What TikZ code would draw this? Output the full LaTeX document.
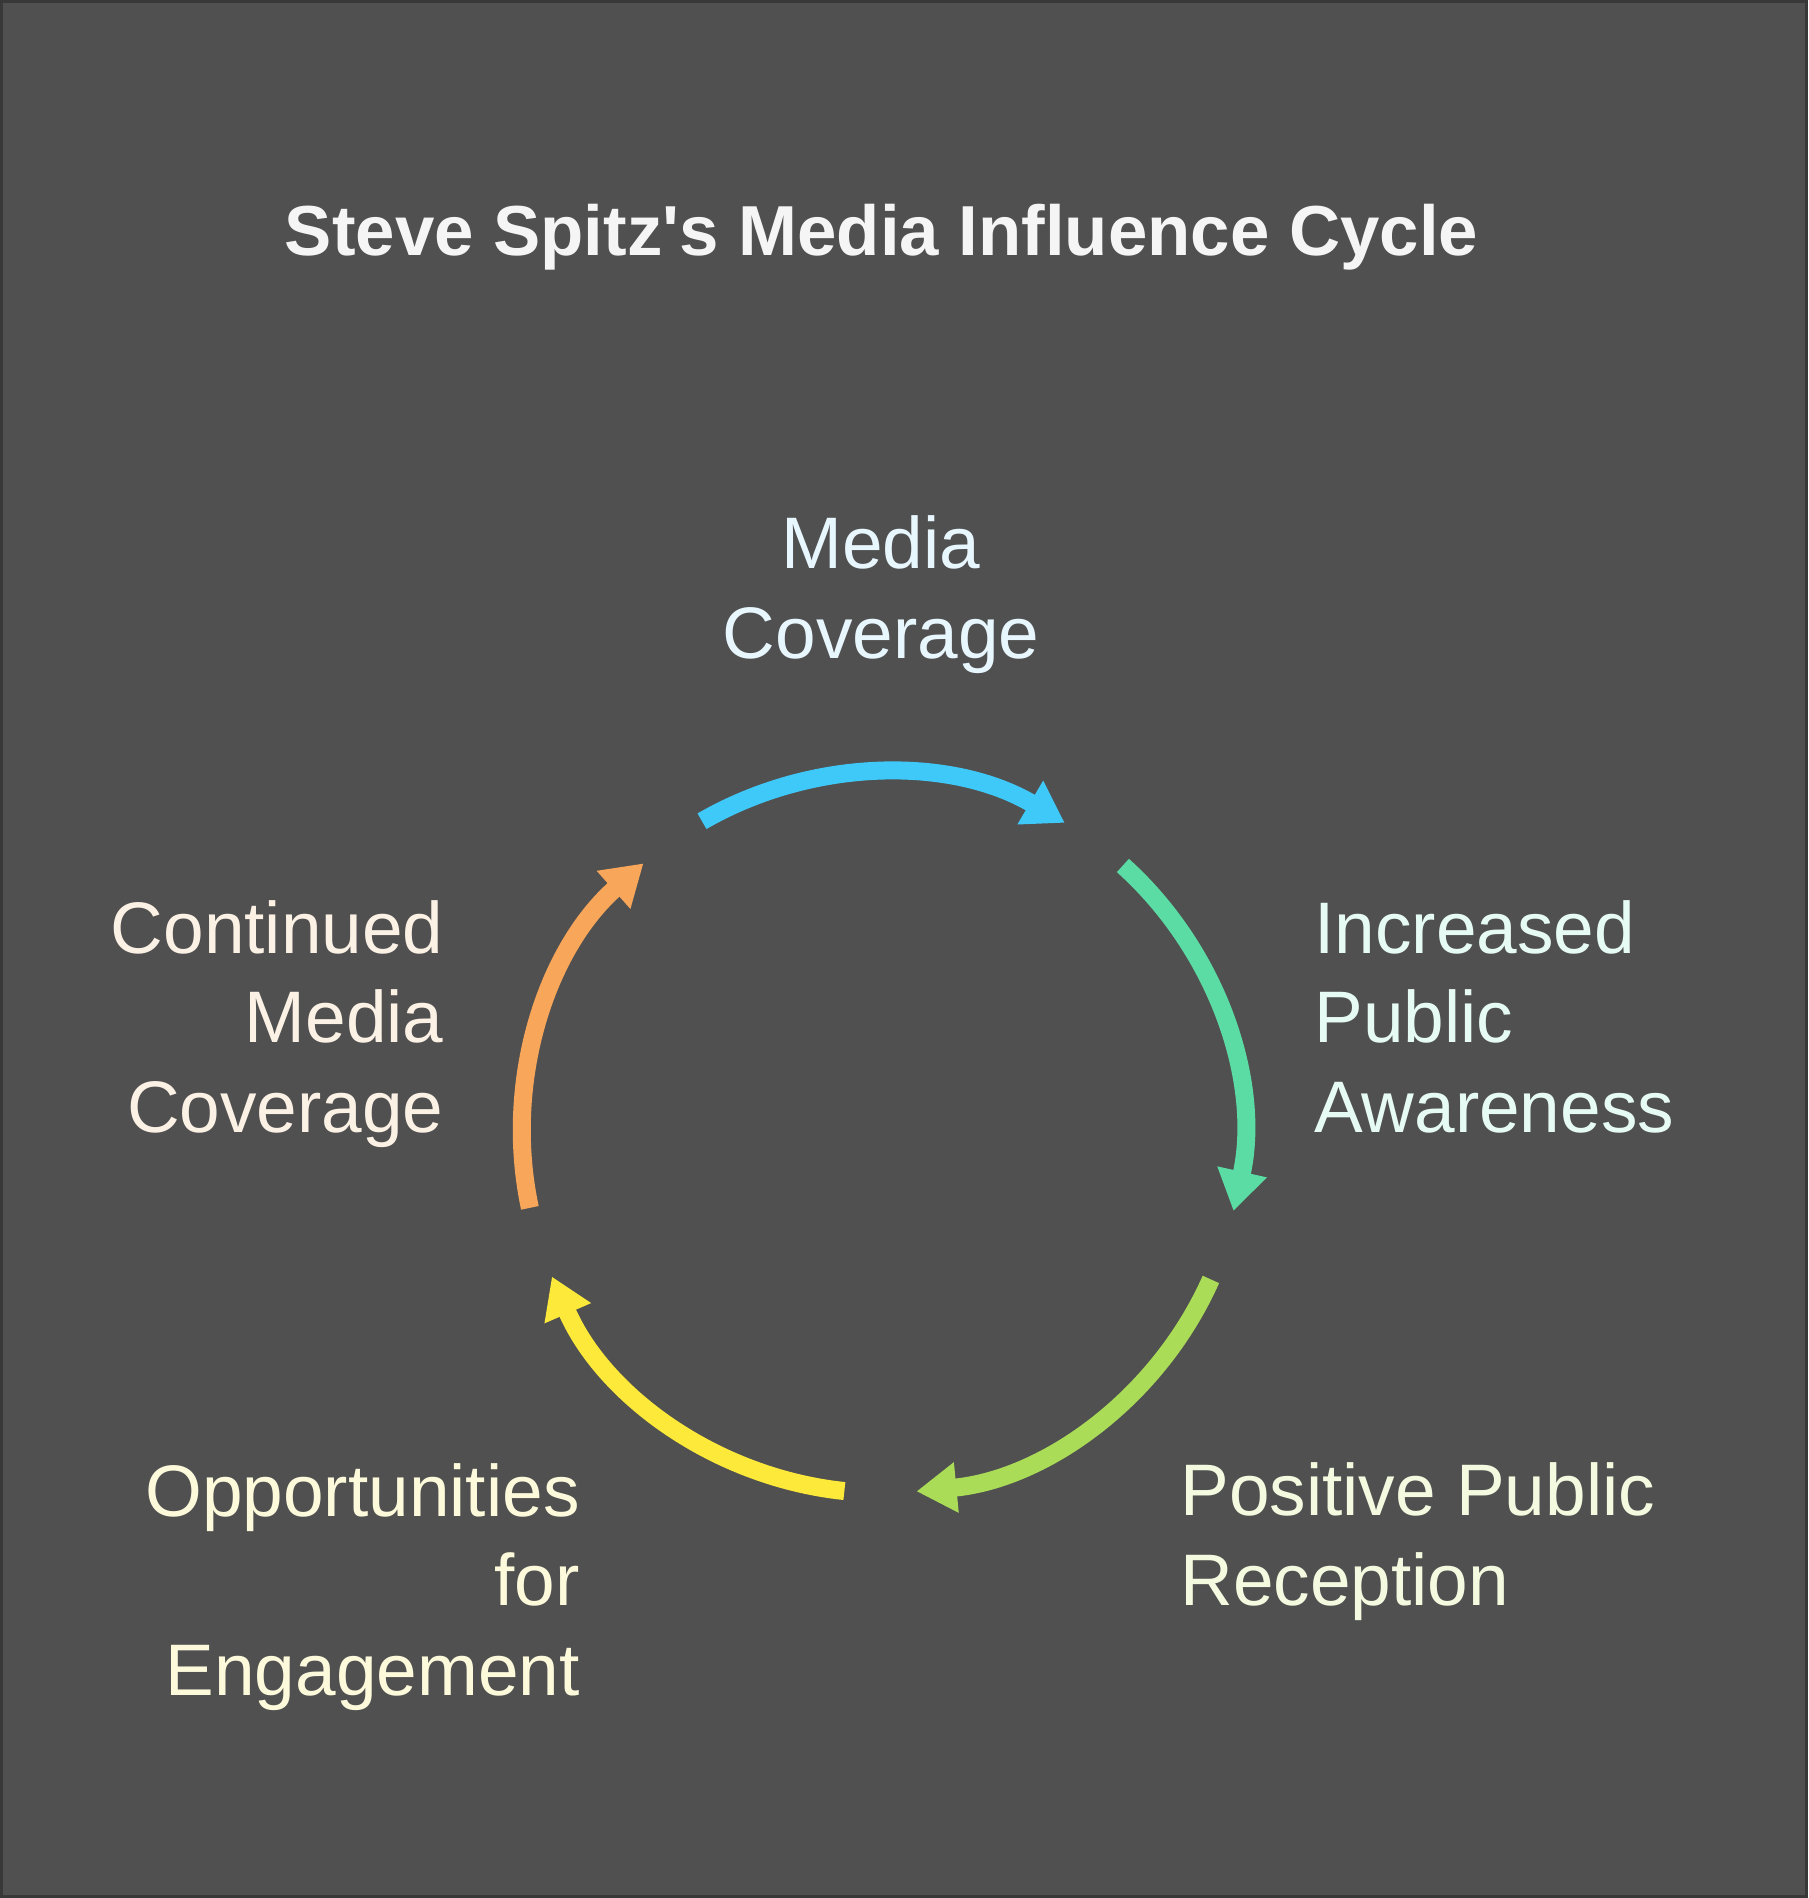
\documentclass[tikz,border=0pt]{standalone}
\usepackage{fontspec}
\setmainfont{Liberation Sans}
\usepackage{tikz}
\usetikzlibrary{arrows.meta}

\definecolor{framecol}{HTML}{383838}
\definecolor{bgcol}{HTML}{505050}
\definecolor{bluearr}{HTML}{3FC9F9}
\definecolor{greenarr}{HTML}{5BDCA4}
\definecolor{limearr}{HTML}{AADC58}
\definecolor{yellowarr}{HTML}{FDE93A}
\definecolor{orangearr}{HTML}{F7A65A}
\definecolor{mediatxt}{HTML}{E8F6FD}
\definecolor{awaretxt}{HTML}{E6FBF3}
\definecolor{recepttxt}{HTML}{F4FADF}
\definecolor{engagetxt}{HTML}{FDFADC}
\definecolor{contintxt}{HTML}{FCF1E5}

\tikzset{
  cyclearrow/.style={line width=9pt, -{Triangle[length=20pt,width=24pt]}},
  stagetext/.style={inner sep=0pt, font=\fontsize{36.5}{44.75}\selectfont},
  titletext/.style={inner sep=0pt, text=white!96!black, anchor=base,
    font=\fontsize{35.4}{43}\selectfont\bfseries}
}

\begin{document}
\begin{tikzpicture}[x=0.5pt,y=0.5pt]
  \fill[framecol] (0,0) rectangle (1808,-1898);
  \fill[bgcol] (3,-3) rectangle (1805,-1895);
  \node[titletext] (title) at (881.5,-256) {Steve Spitz\textquotesingle s Media Influence Cycle};

  \coordinate (ctr) at (882,-1133);
  % multi-line nodes sit on the baseline of their last line
  \node[stagetext, text=mediatxt, align=center, anchor=base] (media) at (881,-658) {Media\\Coverage};
  \node[stagetext, text=awaretxt, align=left, anchor=base west] (aware) at (1314,-1132) {Increased\\Public\\Awareness};
  \node[stagetext, text=recepttxt, align=left, anchor=base west] (recept) at (1180,-1605) {Positive Public\\Reception};
  \node[stagetext, text=engagetxt, align=right, anchor=base east] (engage) at (580,-1695) {Opportunities\\for\\Engagement};
  \node[stagetext, text=contintxt, align=right, anchor=base east] (contin) at (444,-1132) {Continued\\Media\\Coverage};

  \foreach \a/\col in {120/bluearr,48/greenarr,-24/limearr,-96/yellowarr,-168/orangearr}
    \draw[cyclearrow,\col] ([shift={(\a:360)}]ctr) arc[start angle=\a, delta angle=-60.5, radius=360];
\end{tikzpicture}
\end{document}
